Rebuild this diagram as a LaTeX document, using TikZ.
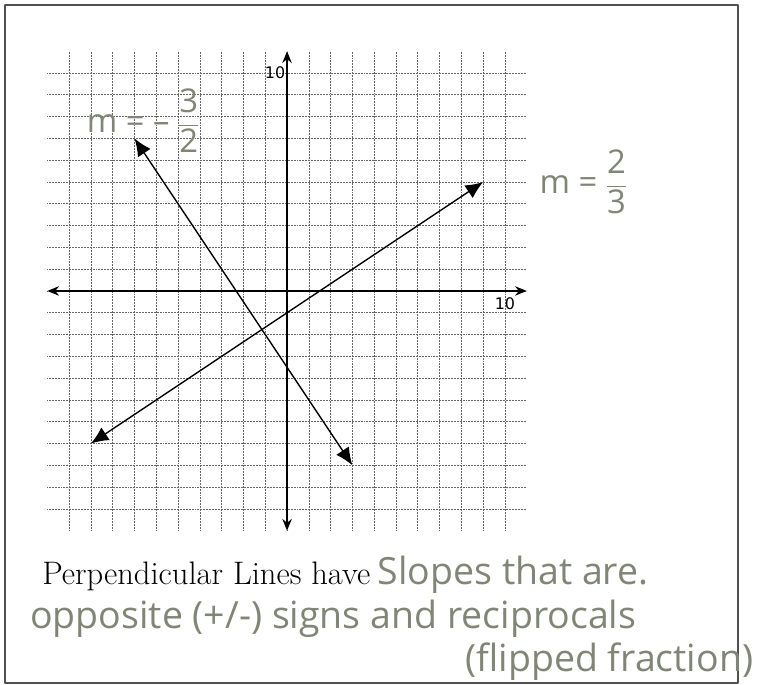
\documentclass[tikz,border=0pt]{standalone}
\usepackage{fontspec}
\usetikzlibrary{arrows.meta}
\newfontfamily\handfont{Open Sans}
\newfontfamily\axisfont{DejaVu Sans}
\definecolor{handgray}{RGB}{128,133,118}
\definecolor{framegray}{RGB}{80,80,80}

\begin{document}
\begin{tikzpicture}[x=0.654cm, y=0.654cm, line join=round,
    gridline/.style={black!60, line width=0.55pt, dash pattern=on 0.6pt off 0.7pt},
    axisline/.style={line width=1.8pt, {Stealth[length=10pt,width=8pt]}-{Stealth[length=10pt,width=8pt]}},
    slopeline/.style={line width=1.2pt, {Latex[length=15pt,width=13pt]}-{Latex[length=15pt,width=13pt]}},
    numlabel/.style={font=\axisfont\fontsize{13.6}{15}\selectfont, inner sep=1pt},
    handtext/.style={font=\handfont\fontsize{32}{36}\selectfont, text=handgray, inner sep=0pt},
    slopelabel/.style={font=\handfont\fontsize{28}{32}\selectfont, text=handgray, inner sep=0pt}]

    % 範囲と枠
    \useasboundingbox (-13.17,-18.07) rectangle (21.93,13.35);
    \draw[framegray, line width=1.2pt] (-12.94,-17.98) rectangle (20.69,13.12);

    % 方眼
    \foreach \k in {-10,...,10} {
        \draw[gridline] (\k,-11) -- (\k,11);
        \draw[gridline] (-11,\k) -- (11,\k);
    }

    % 座標軸の端点
    \coordinate (XL) at (-11,0);
    \coordinate (XR) at (11,0);
    \coordinate (YB) at (0,-11);
    \coordinate (YT) at (0,11);

    % 直線の端点 (y = 2/3 x - 1, y = -3/2 x - 7/2)
    \coordinate (A1) at (-9,-7);
    \coordinate (A2) at (9,5);
    \coordinate (B1) at (-7,7);
    \coordinate (B2) at (3,-8);

    % 座標軸
    \draw[axisline] (XL) -- (XR);
    \draw[axisline] (YB) -- (YT);

    % 二本の直線
    \draw[slopeline] (A1) -- (A2);
    \draw[slopeline] (B1) -- (B2);

    % 目盛りの数
    \node[numlabel, anchor=east] (ytick) at (-0.02,10) {10};
    \node[numlabel, anchor=north] (xtick) at (10,-0.25) {10};

    % 傾きの書き込み
    \node[slopelabel] (mneg) at (-6.6,7.8) {m = – $\displaystyle\frac{\hbox{3}}{\hbox{2}}$};
    \node[slopelabel] (mpos) at (13.6,5.0) {m = $\displaystyle\frac{\hbox{2}}{\hbox{3}}$};

    % 下の文
    \node[anchor=base west, font=\fontsize{27.8}{32}\selectfont, inner sep=0pt] (perp) at (-11.24,-13.45) {Perpendicular Lines have};
    \node[handtext, anchor=base west] (slopes) at ([xshift=6pt]perp.base east) {Slopes that are.};
    \node[handtext, anchor=base west] (opp) at (-11.79,-15.5) {opposite (+/-) signs and reciprocals};
    \node[handtext, anchor=base west] (flip) at (8.17,-17.45) {(flipped fraction)};

\end{tikzpicture}
\end{document}
